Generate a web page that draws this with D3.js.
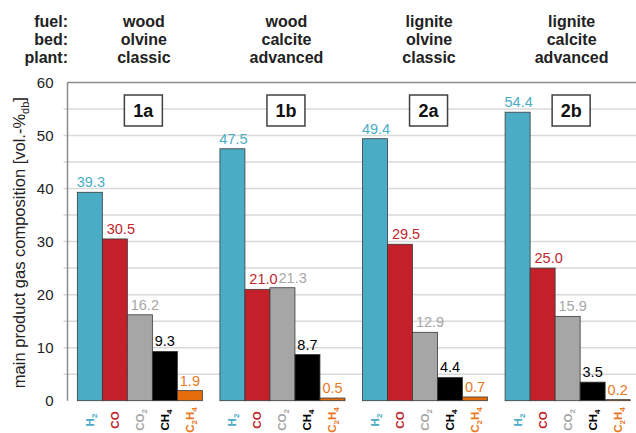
<!DOCTYPE html>
<html>
<head>
<meta charset="utf-8">
<script src="https://cdn.jsdelivr.net/npm/d3@7"></script>
<style>
body { margin: 0; background: #fff; }
svg { display: block; font-family: 'Liberation Sans', Arial, sans-serif; }
</style>
</head>
<body>
<div id="graph"></div>
<script>
var cases = ['1a', '1b', '2a', '2b']
var fuels = ['wood', 'wood', 'lignite', 'lignite']
var beds = ['olvine', 'calcite', 'olvine', 'calcite']
var plants = ['classic', 'advanced', 'classic', 'advanced']
var gases = ['H2', 'CO', 'CO2', 'CH4', 'C2H4']
var values = [
	[39.3, 30.5, 16.2, 9.3, 1.9],
	[47.5, 21.0, 21.3, 8.7, 0.5],
	[49.4, 29.5, 12.9, 4.4, 0.7],
	[54.4, 25.0, 15.9, 3.5, 0.2]
]
var yTicks = [0, 10, 20, 30, 40, 50, 60]

var barColors = ['#4bacc6', '#c3202a', '#a6a6a6', '#000000', '#e46c0a']
var labelColors = ['#4bacc6', '#c0272d', '#a6a6a6', '#000000', '#e8791e']
// gas names with subscripts: [text, isSub]
var gasParts = [
	[['H', 0], ['2', 1]],
	[['CO', 0]],
	[['CO', 0], ['2', 1]],
	[['CH', 0], ['4', 1]],
	[['C', 0], ['2', 1], ['H', 0], ['4', 1]]
]
var labelShift = [1, 6, 5, 0, 0]

var width = 636
var height = 433
var plotLeft = 67.5
var plotTop = 82.5
var plotBottom = 400.7

var svg = d3.select('#graph').append('svg')
	.attr('width', width)
	.attr('height', height)

var x0 = d3.scaleBand()
	.domain(cases)
	.range([plotLeft, 640])
	.paddingInner(0.123)
	.paddingOuter(0.069)

var x1 = d3.scaleBand()
	.domain(gases)
	.range([0, x0.bandwidth()])

var y = d3.scaleLinear()
	.domain([0, 60])
	.range([plotBottom, plotTop])

// grid lines every 5
svg.append('g').selectAll('line')
	.data(d3.range(5, 60, 5))
	.enter().append('line')
	.attr('x1', plotLeft - 4)
	.attr('x2', width)
	.attr('y1', function(d) { return y(d) })
	.attr('y2', function(d) { return y(d) })
	.attr('stroke', '#d9d9d9')
	.attr('stroke-width', 1.5)

// frame
svg.append('line')
	.attr('x1', plotLeft).attr('x2', width)
	.attr('y1', plotTop).attr('y2', plotTop)
	.attr('stroke', '#8c8c8c').attr('stroke-width', 1.5)
svg.append('line')
	.attr('x1', plotLeft).attr('x2', plotLeft)
	.attr('y1', plotTop).attr('y2', plotBottom)
	.attr('stroke', '#8c8c8c').attr('stroke-width', 1.5)

// y axis
var yAxis = d3.axisLeft(y).tickValues(yTicks).tickSize(0).tickPadding(14)
var ya = svg.append('g')
	.attr('transform', 'translate(' + plotLeft + ',0)')
	.call(yAxis)
ya.select('.domain').remove()
ya.selectAll('text')
	.attr('font-size', 15)
	.attr('fill', '#222')
	.attr('font-family', "'Liberation Sans', Arial, sans-serif")

// y axis title
var yt = svg.append('text')
	.attr('transform', 'translate(25,' + ((plotTop + plotBottom) / 2 + 1) + ') rotate(-90)')
	.attr('text-anchor', 'middle')
	.attr('font-size', 16.5)
	.attr('fill', '#222')
yt.append('tspan').text('main product gas composition [vol.-%')
yt.append('tspan').attr('font-size', 11).attr('dy', 4).text('db')
yt.append('tspan').attr('dy', -4).text(']')

var groups = svg.append('g').selectAll('g')
	.data(values)
	.enter().append('g')
	.attr('transform', function(d, i) { return 'translate(' + x0(cases[i]) + ',0)' })

groups.selectAll('rect')
	.data(function(d) { return d })
	.enter().append('rect')
	.attr('x', function(d, j) { return x1(gases[j]) })
	.attr('width', x1.bandwidth())
	.attr('y', function(d) { return y(d) })
	.attr('height', function(d) { return plotBottom - y(d) })
	.attr('fill', function(d, j) { return barColors[j] })
	.attr('stroke', '#3a3a3a')
	.attr('stroke-width', 0.8)

groups.selectAll('text.val')
	.data(function(d) { return d })
	.enter().append('text')
	.attr('class', 'val')
	.attr('x', function(d, j) { return x1(gases[j]) + x1.bandwidth() / 2 + labelShift[j] })
	.attr('y', function(d) { return y(d) - 5 })
	.attr('text-anchor', 'middle')
	.attr('font-size', 14.5)
	.attr('fill', function(d, j) { return labelColors[j] })
	.text(function(d) { return d.toFixed(1) })

// push labels right when they collide with the previous one
groups.each(function() {
	var prev = null
	d3.select(this).selectAll('text.val').each(function() {
		var b = this.getBBox()
		if (prev && b.x < prev.x + prev.width + 1 && Math.abs(b.y - prev.y) < b.height) {
			var dx = prev.x + prev.width + 1 - b.x
			this.setAttribute('x', +this.getAttribute('x') + dx)
			b = this.getBBox()
		}
		prev = b
	})
})

// rotated gas names
groups.each(function(d, i) {
	var g = d3.select(this)
	gases.forEach(function(gas, j) {
		var t = g.append('text')
			.attr('transform', 'translate(' + (x1(gas) + x1.bandwidth() / 2 + 4) + ',420) rotate(-90)')
			.attr('text-anchor', 'middle')
			.attr('font-size', 11.5)
			.attr('font-weight', 'bold')
			.attr('fill', labelColors[j])
		var shifted = 0
		gasParts[j].forEach(function(p) {
			var sp = t.append('tspan').text(p[0])
			if (p[1]) {
				sp.attr('font-size', 8).attr('dy', 3 - shifted)
				shifted = 3
			} else if (shifted) {
				sp.attr('dy', -shifted)
				shifted = 0
			}
		})
	})
})

// case boxes
var boxes = svg.append('g').selectAll('g')
	.data(cases)
	.enter().append('g')
	.attr('transform', function(d) { return 'translate(' + (x0(d) + x0.bandwidth() / 2 + 3.5) + ',110.5)' })
boxes.append('rect')
	.attr('x', -19).attr('y', -15.5)
	.attr('width', 38).attr('height', 31)
	.attr('fill', '#fff')
	.attr('stroke', '#404040')
	.attr('stroke-width', 1.5)
boxes.append('text')
	.attr('text-anchor', 'middle')
	.attr('dy', 6.5)
	.attr('font-size', 18)
	.attr('font-weight', 'bold')
	.attr('fill', '#111')
	.text(function(d) { return d })

// header rows
var rowNames = ['fuel:', 'bed:', 'plant:']
var rows = [fuels, beds, plants]
rows.forEach(function(row, r) {
	var yy = 27 + r * 18
	svg.append('text')
		.attr('x', 68).attr('y', yy)
		.attr('text-anchor', 'end')
		.attr('font-size', 16).attr('font-weight', 'bold')
		.attr('fill', '#222')
		.text(rowNames[r])
	row.forEach(function(txt, i) {
		svg.append('text')
			.attr('x', x0(cases[i]) + x0.bandwidth() / 2 + 4)
			.attr('y', yy)
			.attr('text-anchor', 'middle')
			.attr('font-size', 16).attr('font-weight', 'bold')
			.attr('fill', '#222')
			.text(txt)
	})
})
</script>
</body>
</html>
